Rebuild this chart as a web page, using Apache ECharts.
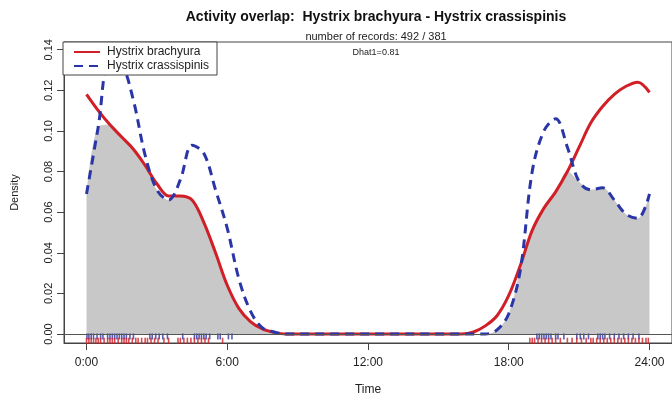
<!DOCTYPE html>
<html>
<head>
<meta charset="utf-8">
<script src="https://cdn.jsdelivr.net/npm/echarts@6/dist/echarts.min.js"></script>
<style>
  html, body { margin: 0; padding: 0; background: #fff; }
  #chart { width: 672px; height: 401px; }
</style>
</head>
<body>
<div id="chart"></div>
<script>
// time of day (hours), common grid for both density curves
const hours = [0, 0.5, 1, 1.5, 2, 2.5, 3, 3.5, 4, 4.5, 5, 5.5, 6, 6.5, 7, 7.5, 8, 8.5,
  9, 9.5, 10, 10.5, 11, 11.5, 12, 12.5, 13, 13.5, 14, 14.5, 15, 15.5, 16, 16.5,
  17, 17.5, 18, 18.5, 19, 19.5, 20, 20.5, 21, 21.5, 22, 22.5, 23, 23.5, 24]

// Hystrix brachyura density
const brachyura = [0.118, 0.110, 0.103, 0.097, 0.091, 0.083, 0.074, 0.068, 0.068, 0.066,
  0.055, 0.040, 0.024, 0.0125, 0.006, 0.0025, 0.0008, 0,
  0, 0, 0, 0, 0, 0, 0, 0, 0, 0, 0, 0, 0, 0, 0, 0.001,
  0.004, 0.009, 0.019, 0.034, 0.051, 0.062, 0.070, 0.080, 0.092, 0.104, 0.112, 0.118,
  0.122, 0.124, 0.119]

// Hystrix crassispinis density
const crassispinis = [0.069, 0.102, 0.136, 0.133, 0.115, 0.088, 0.071, 0.066, 0.076, 0.093,
  0.089, 0.071, 0.052, 0.027, 0.011, 0.003, 0.001, 0,
  0, 0, 0, 0, 0, 0, 0, 0, 0, 0, 0, 0, 0, 0, 0, 0,
  0, 0.002, 0.010, 0.032, 0.080, 0.100, 0.106, 0.092, 0.075, 0.071, 0.072, 0.066,
  0.059, 0.057, 0.069]

// rug: record times (hours)
const rugBrachyura = [0.0, 0.1, 0.2, 0.3, 0.4, 0.5, 0.6, 0.75, 0.9, 1.0, 1.1, 1.2, 1.35, 1.5,
  1.6, 1.7, 1.8, 1.95, 2.1, 2.2, 2.35, 2.5, 2.6, 2.75, 2.9, 3.05, 3.3, 3.5,
  3.9, 4.0, 4.15, 4.3, 4.45, 4.6, 4.75, 4.9, 5.05, 5.2, 5.8,
  18.9, 19.0, 19.1, 19.25, 19.4, 19.55, 19.7, 19.85, 20.0, 20.2, 20.5, 20.7, 20.9,
  21.1, 21.3, 21.5, 21.6, 21.75, 21.9, 22.05, 22.2, 22.35, 22.5, 22.65, 22.8, 22.95,
  23.1, 23.25, 23.4, 23.55, 23.7, 23.85, 23.95]
const rugCrassispinis = [0.02, 0.1, 0.2, 0.3, 0.45, 0.6, 0.7, 0.9, 1.0, 1.1, 1.2, 1.3, 1.4,
  1.5, 1.6, 1.7, 1.85, 2.0, 2.7, 2.8, 2.95, 3.1, 3.25, 3.45, 4.1,
  4.6, 4.7, 4.8, 4.9, 5.0, 5.1, 5.25, 5.6, 5.7, 6.05, 6.2,
  19.2, 19.3, 19.4, 19.5, 19.6, 19.7, 19.8, 20.0, 20.1, 20.35, 20.9, 21.05, 21.2, 21.4,
  21.8, 21.9, 22.0, 22.1, 22.3, 22.5, 22.7, 22.9, 23.1, 23.3, 23.55]

const xTicks = [0, 6, 12, 18, 24]
const xTickLabels = ['0:00', '6:00', '12:00', '18:00', '24:00']
const yTicks = [0, 0.02, 0.04, 0.06, 0.08, 0.10, 0.12, 0.14]

const RED = '#d01f26'
const BLUE = '#2a36a8'

const overlap = hours.map((h, i) => [h, Math.min(brachyura[i], crassispinis[i])])

const chart = echarts.init(document.getElementById('chart'))

const option = {
  animation: false,
  textStyle: { fontFamily: 'Liberation Sans, Arial, sans-serif' },
  title: [
    {
      text: 'Activity overlap:  Hystrix brachyura - Hystrix crassispinis',
      left: 371, top: 5, textAlign: 'center',
      textStyle: { fontSize: 14, fontWeight: 'bold', color: '#111' }
    },
    {
      text: 'number of records: 492 / 381',
      left: 371, top: 26, textAlign: 'center',
      textStyle: { fontSize: 11, fontWeight: 'normal', color: '#222' }
    },
    {
      text: 'Dhat1=0.81',
      left: 371, top: 43, textAlign: 'center',
      textStyle: { fontSize: 9, fontWeight: 'normal', color: '#222' }
    }
  ],
  legend: {
    orient: 'vertical',
    left: 63, top: 42,
    z: 10,
    padding: [4, 8, 3, 10],
    itemGap: 2,
    itemWidth: 26,
    itemHeight: 12,
    backgroundColor: '#fff',
    borderColor: '#444',
    borderWidth: 1,
    borderRadius: 0,
    itemStyle: { opacity: 0 },
    data: ['Hystrix brachyura', 'Hystrix crassispinis'],
    textStyle: { fontSize: 12, color: '#222', padding: [0, 0, 0, 2] }
  },
  grid: {
    left: 64, right: -6, top: 42, bottom: 58,
    show: true, borderColor: '#444', borderWidth: 1
  },
  xAxis: {
    type: 'value',
    min: -0.96, max: 24.96,
    name: 'Time', nameLocation: 'middle', nameGap: 41,
    nameTextStyle: { fontSize: 12, color: '#222' },
    axisLine: { show: true, onZero: false, lineStyle: { color: '#444' } },
    axisTick: { show: true, length: 7, lineStyle: { color: '#444' }, customValues: xTicks },
    axisLabel: {
      fontSize: 12, color: '#222', margin: 14,
      customValues: xTicks,
      formatter: v => xTickLabels[xTicks.indexOf(Math.round(v))]
    },
    splitLine: { show: false }
  },
  yAxis: {
    type: 'value',
    min: -0.00443, max: 0.1438,
    name: 'Density', nameLocation: 'middle', nameGap: 44,
    nameTextStyle: { fontSize: 11, color: '#222' },
    axisLine: { show: true, onZero: false, lineStyle: { color: '#444' } },
    axisTick: { show: true, length: 7, lineStyle: { color: '#444' }, customValues: yTicks },
    axisLabel: {
      fontSize: 11, color: '#222', rotate: 90, margin: 10,
      customValues: yTicks,
      formatter: v => v.toFixed(2)
    },
    splitLine: { show: false }
  },
  series: [
    {
      name: 'overlap',
      type: 'line',
      data: overlap,
      smooth: 0.35,
      symbol: 'none',
      silent: true,
      lineStyle: { width: 0 },
      itemStyle: { color: '#c8c8c8' },
      areaStyle: { color: '#c8c8c8', opacity: 1 },
      markLine: {
        silent: true,
        symbol: 'none',
        label: { show: false },
        lineStyle: { color: '#555', width: 1, type: 'solid' },
        data: [{ yAxis: 0 }]
      },
      z: 1
    },
    {
      name: 'Hystrix brachyura',
      type: 'line',
      data: hours.map((h, i) => [h, brachyura[i]]),
      smooth: 0.35,
      symbol: 'none',
      itemStyle: { color: RED },
      lineStyle: { color: RED, width: 3 },
      z: 3
    },
    {
      name: 'Hystrix crassispinis',
      type: 'line',
      data: hours.map((h, i) => [h, crassispinis[i]]),
      smooth: 0.35,
      symbol: 'none',
      itemStyle: { color: BLUE },
      lineStyle: { color: BLUE, width: 3, type: [9, 6] },
      z: 4
    },
    {
      name: 'rug crassispinis',
      type: 'scatter',
      data: rugCrassispinis.map(h => [h, -0.0012]),
      symbol: 'rect',
      symbolSize: [1.6, 6],
      itemStyle: { color: BLUE },
      silent: true,
      z: 2
    },
    {
      name: 'rug brachyura',
      type: 'scatter',
      data: rugBrachyura.map(h => [h, -0.0033]),
      symbol: 'rect',
      symbolSize: [1.6, 6],
      itemStyle: { color: RED },
      silent: true,
      z: 2
    }
  ]
}

chart.setOption(option)
</script>
</body>
</html>
